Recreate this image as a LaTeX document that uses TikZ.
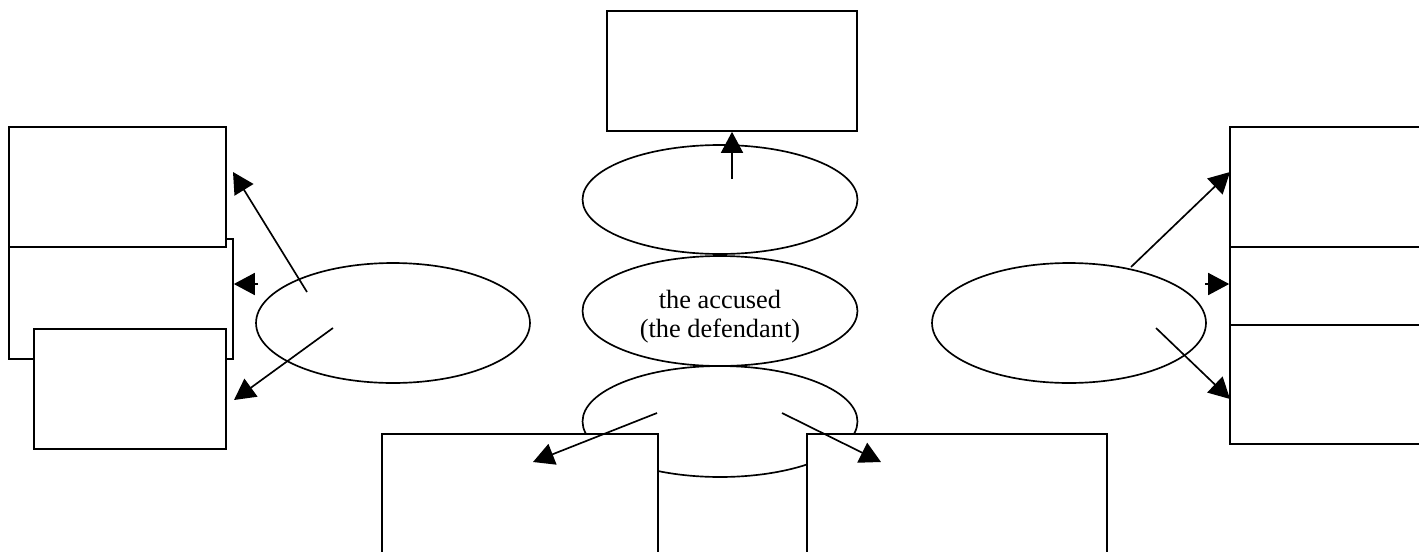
\documentclass[tikz,border=0pt]{standalone}
\usepackage{fontspec}
\setmainfont{Liberation Serif}
\usetikzlibrary{arrows.meta,shapes.geometric}
\begin{document}
\begin{tikzpicture}[x=0.02cm,y=-0.02cm,
  box/.style={draw, line width=0.95pt, fill=white, rectangle, inner sep=0pt, minimum height=2.4cm},
  oval/.style={draw, line width=0.95pt, fill=white, ellipse, inner sep=0pt, minimum width=5.5cm},
  arr/.style={line width=0.95pt, -{Triangle[length=0.42cm,width=0.44cm]}},
  txt/.style={font=\fontsize{15pt}{16.5pt}\selectfont, align=center, inner sep=0pt}]
\useasboundingbox (0,0) rectangle (1419,551);
\clip (0,0) rectangle (1419,551);
\fill[white] (0,0) rectangle (1419,551);

% left boxes
\node[box, minimum width=4.48cm] (L2) at (121,299) {};
\node[box, minimum width=4.34cm] (L1) at (117.5,187) {};
\node[box, minimum width=3.84cm] (L3) at (130,389) {};

% right boxes
\node[box, minimum width=4.4cm] (R2) at (1340,299) {};
\node[box, minimum width=4.4cm] (R1) at (1340,187) {};
\node[box, minimum width=4.4cm, minimum height=2.38cm] (R3) at (1340,384.5) {};

% top box
\node[box, minimum width=5cm] (T) at (732,71) {};

% ellipses
\node[oval, minimum height=2.18cm] (ET) at (720,199.5) {};
\node[oval, minimum height=2.2cm] (EM) at (720,311) {};
\node[txt] (accused) at (720,317) {the accused\\(the defendant)};
\node[oval, minimum height=2.22cm] (EB) at (720,421.5) {};
\node[oval, minimum width=5.48cm, minimum height=2.4cm] (EL) at (393,323) {};
\node[oval, minimum width=5.48cm, minimum height=2.4cm] (ER) at (1069,323) {};

% bottom boxes
\node[box, minimum width=5.52cm, minimum height=2.92cm] (B1) at (520,507) {};
\node[box, minimum width=6cm, minimum height=2.92cm] (B2) at (957,507) {};

% arrow end points
\coordinate (ts) at (732,179);
\coordinate (l1s) at (307,292);
\coordinate (l1t) at (233,172);
\coordinate (l2s) at (258,284);
\coordinate (l3s) at (333,328);
\coordinate (l3t) at (234,400);
\coordinate (r1s) at (1131,267);
\coordinate (r1t) at (1230,172);
\coordinate (r2s) at (1205,284);
\coordinate (r3s) at (1156,328);
\coordinate (r3t) at (1230,399);
\coordinate (b1s) at (657,413);
\coordinate (b1t) at (533,462);
\coordinate (b2s) at (782,413);
\coordinate (b2t) at (881,462);

\draw[arr] (ts) -- (ts |- T.south);
\draw[arr] (l1s) -- (l1t);
\draw[arr] (l2s) -- (L2.east |- l2s);
\draw[arr] (l3s) -- (l3t);
\draw[arr] (r1s) -- (r1t);
\draw[arr] (r2s) -- (R2.west |- r2s);
\draw[arr] (r3s) -- (r3t);
\draw[arr] (b1s) -- (b1t);
\draw[arr] (b2s) -- (b2t);
\end{tikzpicture}
\end{document}
